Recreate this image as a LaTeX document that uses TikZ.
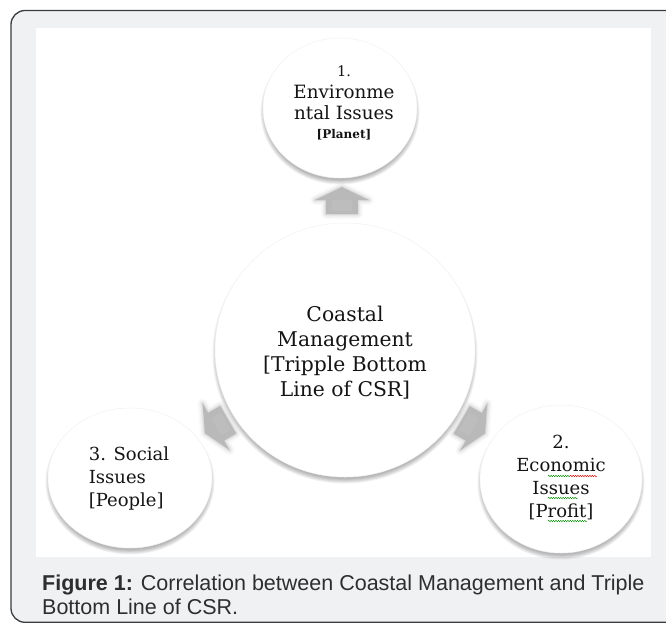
\documentclass[tikz,border=0pt]{standalone}
\usepackage{fontspec}
\setmainfont{DejaVu Serif}
\newfontfamily\capfont{Liberation Sans}
\usetikzlibrary{shapes.geometric,decorations.pathmorphing,calc}
\definecolor{bgc}{HTML}{F0F1F3}
\definecolor{framec}{HTML}{3C3C3C}
\definecolor{txt}{HTML}{141414}
\definecolor{capc}{HTML}{2E2E2E}
\definecolor{arrc}{HTML}{B9B9B9}
\begin{document}
\begin{tikzpicture}[x=1pt,y=-1pt,
  bub/.style={ellipse, draw=gray!10, line width=0.5pt, fill=white, inner sep=0pt},
  bubtext/.style={text=txt, inner sep=0pt},
  spellg/.style={draw=green!55!black, line width=0.45pt, decorate, decoration={snake, amplitude=0.7pt, segment length=2.4pt}},
  spellr/.style={draw=red!80!black, line width=0.45pt, decorate, decoration={snake, amplitude=0.7pt, segment length=2.4pt}},
  blockarrow/.pic={
    \foreach \w/\o in {10/0.06,7/0.10,4.5/0.16,2/0.25}
      \draw[arrc, line width=\w pt, opacity=\o, line join=round]
        (0,-14)--(27,-1)--(16,-1)--(16,13)--(-16,13)--(-16,-1)--(-27,-1)--cycle;
    \fill[arrc] (0,-14)--(27,-1)--(16,-1)--(16,13)--(-16,13)--(-16,-1)--(-27,-1)--cycle;
    \fill[gray!45, opacity=0.35] (-10,-1)--(10,-1)--(10,10)--(-10,10)--cycle;
  }]
\useasboundingbox (0,0) rectangle (666,624);
\fill[white] (0,0) rectangle (666,624);
\draw[framec, line width=1.3pt, fill=bgc, rounded corners=14pt] (11,10.5) rectangle (700,622.3);
\fill[white] (36,28) rectangle (651,557);

% soft shadows under the bubbles
\foreach \cx/\cy/\rx/\ry in {340/108/77/70, 345/350/130/127, 130/478/82/70, 561/479/81/74}{
  \foreach \k in {0,1,2,3,4,5}{
    \fill[black, opacity=0.05] (\cx,\cy+4) ellipse [x radius=\rx-2+\k*0.9, y radius=\ry-2+\k*0.9];
  }
}

% bubbles
\node[bub, minimum width=154pt, minimum height=140pt] (env) at (340,108) {};
\node[bub, minimum width=260pt, minimum height=254pt] (core) at (345,350) {};
\node[bub, minimum width=164pt, minimum height=140pt] (soc) at (130,478) {};
\node[bub, minimum width=162pt, minimum height=148pt] (eco) at (561,479) {};

% block arrows from the core to the three bubbles
\coordinate (aT) at ($(core.center)!149pt!(env.center)$);
\coordinate (aL) at ($(core.center)!149pt!(soc.center)$);
\coordinate (aR) at ($(core.center)!149pt!(eco.center)$);
\pic at (aT) {blockarrow};
\pic[rotate=120] at (aL) {blockarrow};
\pic[rotate=-120] at (aR) {blockarrow};

% texts
\node[bubtext, align=center, font=\fontsize{18.3}{21.5}\selectfont] (envtxt) at (344,103)
  {{\fontsize{14.5}{16}\selectfont 1.}\\Environme\\ntal Issues\\[-3pt]{\fontsize{12}{14}\selectfont\bfseries [Planet]}};
\node[bubtext, align=center, font=\fontsize{20.3}{25}\selectfont] (coretxt) at (345,353)
  {Coastal\\Management\\{[}Tripple Bottom\\Line of CSR]};
\node[bubtext, align=left, font=\fontsize{18}{23}\selectfont] (soctxt) at (129,479)
  {3. Social\\Issues\\{[}People]};
\node[bubtext, align=center, font=\fontsize{18}{23}\selectfont] (ecotxt) at (561,477)
  {2.\\Economic\\Issues\\{[}Profit]};

% spell-check underlines seen in the economic bubble
\coordinate (s1a) at (548,476); \coordinate (s1b) at (570,476);
\coordinate (s2a) at (570,476); \coordinate (s2b) at (597,476);
\coordinate (s3a) at (548,498); \coordinate (s3b) at (578,498);
\coordinate (s4a) at (548,521); \coordinate (s4b) at (587,521);
\draw[spellg] (s1a) -- (s1b);
\draw[spellr] (s2a) -- (s2b);
\draw[spellg] (s3a) -- (s3b);
\draw[spellg] (s4a) -- (s4b);

% caption
\node[anchor=base west, align=left, inner sep=0pt, text=capc,
      font=\capfont\fontsize{21.5}{24}\selectfont] (cap) at (42,614)
  {\textbf{Figure 1:} Correlation between Coastal Management and Triple\\Bottom Line of CSR.};
\end{tikzpicture}
\end{document}
